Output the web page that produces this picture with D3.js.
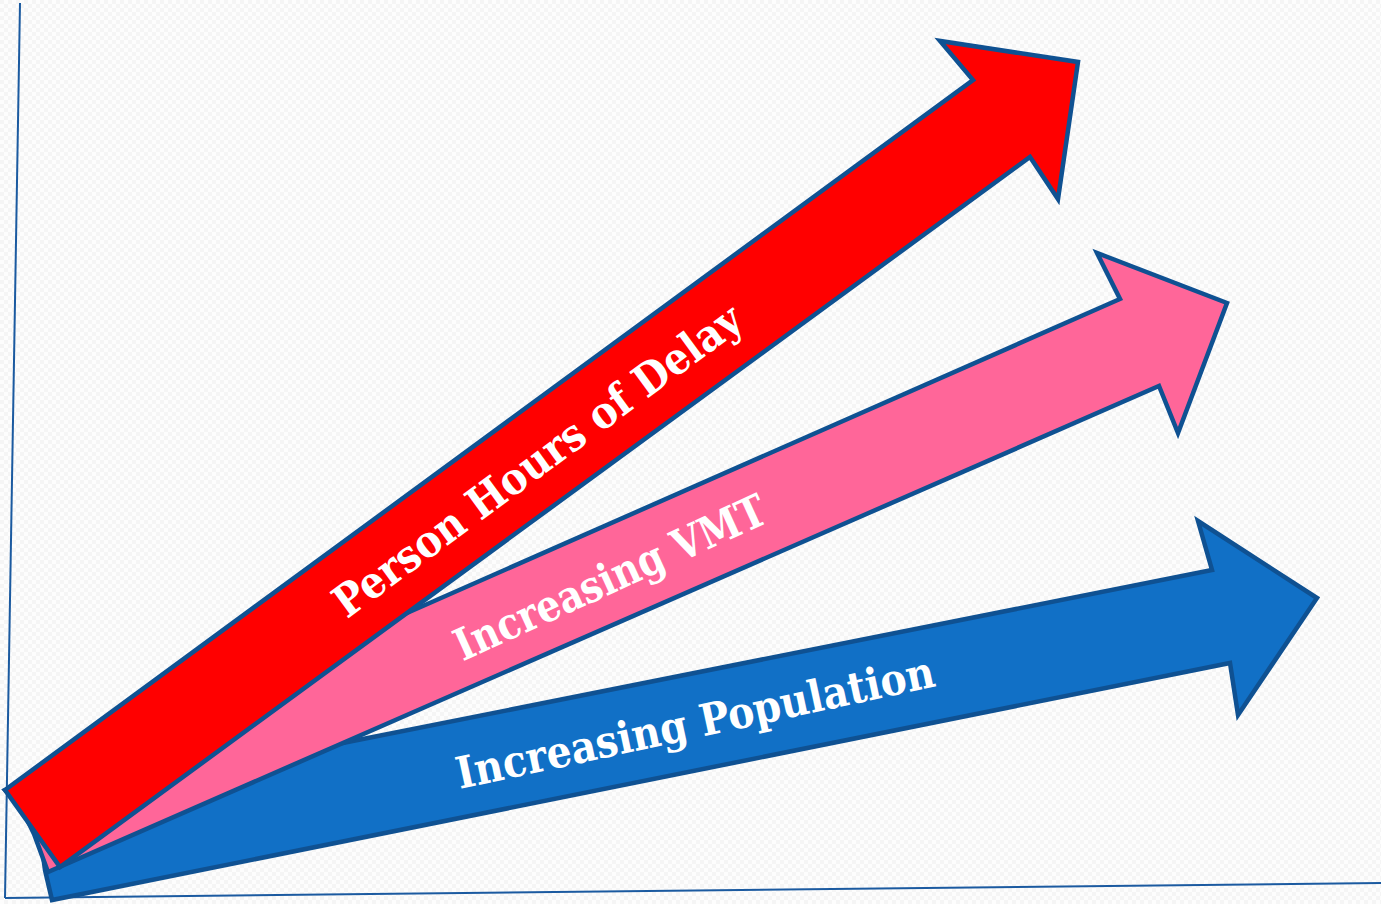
<!DOCTYPE html>
<html>
<head>
  <meta charset="utf-8">
  <script src="https://cdn.jsdelivr.net/npm/d3@7"></script>
  <style>
    html, body { margin: 0; padding: 0; background: #fbfbfb; }
    text { font-family: "DejaVu Serif Condensed", "DejaVu Serif", serif; font-weight: bold; fill: #fff; }
  </style>
</head>
<body>
<script>
  // chart units: x to the right, y upward from the bottom of the page
  var labels = ["Person Hours of Delay", "Increasing VMT", "Increasing Population"];
  var fills = ["#ff0000", "#ff6699", "#1170c6"];

  // arrow outlines: tail corner, shaft/notch, barb, tip, barb, notch, tail corner(s)
  var delayArrow = [[5, 114], [973, 824], [940, 863], [1078, 842], [1058, 705], [1030, 747], [60, 37]];
  var vmtArrow   = [[5, 114], [1120, 605], [1097, 651], [1227, 601], [1178, 471], [1159, 518], [48, 32], [34, 70], [21, 97]];
  var popArrow   = [[36, 100], [1212, 334], [1198, 383], [1317, 306], [1238, 189], [1230, 241], [52, 4], [45, 34]];

  // label placement: centre point, slope angle (deg), text length
  var labelCenter = [[537, 444], [610, 327], [695, 182]];
  var labelAngle = [36.3, 24.5, 12.2];
  var labelLength = [495, 338, 488];

  var axisY = [[20, 901], [5, 6]];
  var axisX = [[5, 6], [1381, 21]];

  var W = 1381, H = 904;
  var x = d3.scaleLinear().domain([0, W]).range([0, W]);
  var y = d3.scaleLinear().domain([0, H]).range([H, 0]);

  var svg = d3.select("body").append("svg")
      .attr("width", W).attr("height", H);

  // faint checked backdrop
  var pat = svg.append("defs").append("pattern")
      .attr("id", "bg").attr("width", 8).attr("height", 8)
      .attr("patternUnits", "userSpaceOnUse");
  pat.append("rect").attr("width", 8).attr("height", 8).attr("fill", "#fdfdfd");
  pat.append("rect").attr("width", 4).attr("height", 4).attr("fill", "#f5f5f5");
  pat.append("rect").attr("x", 4).attr("y", 4).attr("width", 4).attr("height", 4).attr("fill", "#f5f5f5");
  svg.append("rect").attr("width", W).attr("height", H).attr("fill", "url(#bg)");

  var line = d3.line().x(function(d) { return x(d[0]); }).y(function(d) { return y(d[1]); });

  svg.selectAll("path.axis")
    .data([axisY, axisX])
    .enter().append("path")
      .attr("class", "axis")
      .attr("d", line)
      .attr("fill", "none")
      .attr("stroke", "#1b5aa0")
      .attr("stroke-width", 2);

  // draw bottom arrow first so the steeper ones sit on top
  var arrows = [delayArrow, vmtArrow, popArrow];
  var order = [2, 1, 0];
  var tail = d3.line().curve(d3.curveLinear).x(function(d) { return x(d[0]); }).y(function(d) { return y(d[1]); });

  svg.selectAll("path.arrow")
    .data(order)
    .enter().append("path")
      .attr("class", "arrow")
      .attr("d", function(i) { return tail(arrows[i]) + "Z"; })
      .attr("fill", function(i) { return fills[i]; })
      .attr("stroke", "#0f5192")
      .attr("stroke-width", 4.5)
      .attr("stroke-linejoin", "miter");

  svg.selectAll("text.lbl")
    .data(order)
    .enter().append("text")
      .attr("class", "lbl")
      .attr("transform", function(i) {
        return "translate(" + x(labelCenter[i][0]) + "," + y(labelCenter[i][1]) + ") rotate(" + (-labelAngle[i]) + ")";
      })
      .attr("text-anchor", "middle")
      .attr("dy", "0.36em")
      .attr("font-size", 44)
      .attr("textLength", function(i) { return labelLength[i]; })
      .attr("lengthAdjust", "spacingAndGlyphs")
      .text(function(i) { return labels[i]; });
</script>
</body>
</html>
